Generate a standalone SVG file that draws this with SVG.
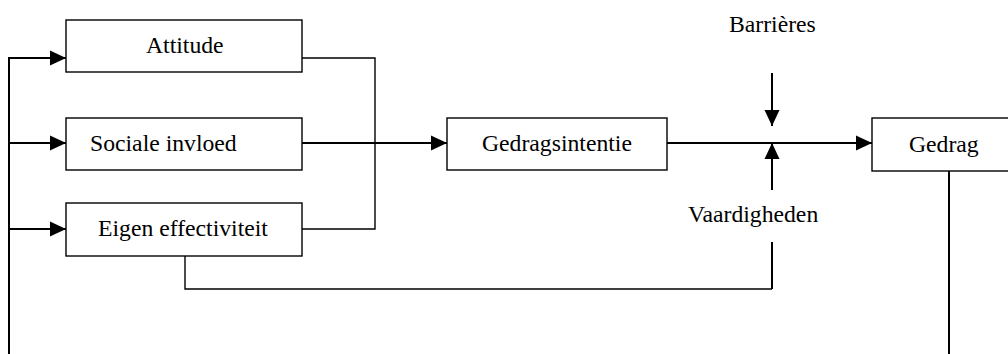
<svg xmlns="http://www.w3.org/2000/svg" width="1008" height="354" viewBox="0 0 1008 354">
<style>
.box{fill:#fff;stroke:#000;stroke-width:1.4}
.lbl{font-family:"Liberation Serif","Times New Roman",serif;font-size:23.7px;fill:#000}
.thick{fill:none;stroke:#000;stroke-width:2}
.thin{fill:none;stroke:#000;stroke-width:1.4}
.arr{marker-end:url(#ah)}
</style>
<defs>
<marker id="ah" markerUnits="userSpaceOnUse" markerWidth="16" markerHeight="16" viewBox="0 0 16 16" refX="16" refY="8" orient="auto">
<path d="M0,0.5 L16,8 L0,15.5 Z" fill="#000"/>
</marker>
</defs>
<rect width="1008" height="354" fill="#fff"/>
<g id="connectors">
<path class="thick" d="M9,354 V58"/>
<path class="thick arr" d="M8,58 H66"/>
<path class="thick arr" d="M9,143 H66"/>
<path class="thick arr" d="M9,229 H66"/>
<path class="thin" d="M302,58 H375 V229 H302"/>
<path class="thick arr" d="M302,143 H447"/>
<path class="thick arr" d="M667,143 H872"/>
<path class="thick arr" d="M772,73 V126"/>
<path class="thick arr" d="M772,190 V143"/>
<path class="thin" d="M185,256 V289 H772"/>
<path class="thick" d="M772,289 V242"/>
<path class="thick" d="M949,171 V354"/>
</g>
<g id="attitude">
<rect class="box" x="66" y="20" width="236" height="52"/>
<text class="lbl" x="146" y="53">Attitude</text>
</g>
<g id="sociale-invloed">
<rect class="box" x="66" y="118" width="236" height="52"/>
<text class="lbl" x="90" y="151">Sociale invloed</text>
</g>
<g id="eigen-effectiviteit">
<rect class="box" x="66" y="203" width="236" height="53"/>
<text class="lbl" x="98" y="236">Eigen effectiviteit</text>
</g>
<g id="gedragsintentie">
<rect class="box" x="447" y="118" width="220" height="52"/>
<text class="lbl" x="482" y="151">Gedragsintentie</text>
</g>
<g id="gedrag">
<rect class="box" x="872" y="118" width="146" height="53"/>
<text class="lbl" x="909" y="152">Gedrag</text>
</g>
<g id="barrieres">
<text class="lbl" x="729" y="32">Barrières</text>
</g>
<g id="vaardigheden">
<text class="lbl" x="688" y="222">Vaardigheden</text>
</g>
</svg>
